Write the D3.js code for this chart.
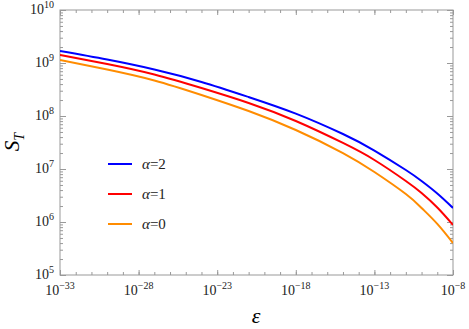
<!DOCTYPE html>
<html>
<head>
<meta charset="utf-8">
<script src="https://cdn.jsdelivr.net/npm/d3@7"></script>
<style>
  body { margin: 0; background: #fff; }
</style>
</head>
<body>
<script>
// epsilon values (x) and S_T for each alpha
var eps = [1e-33, 1e-30, 1e-27, 1e-24, 1e-21, 1e-18, 1e-15, 1e-13, 1e-11, 1e-10, 1e-9, 1e-8];
var sAlpha2 = [1.68e9, 1.16e9, 7.53e8, 4.39e8, 2.28e8, 1.11e8, 4.57e7, 2.23e7, 9.57e6, 5.94e6, 3.45e6, 1.84e6];
var sAlpha1 = [1.42e9, 9.57e8, 6.07e8, 3.37e8, 1.76e8, 8.05e7, 3.1e7, 1.48e7, 5.94e6, 3.52e6, 1.88e6, 8.8e5];
var sAlpha0 = [1.14e9, 7.53e8, 4.68e8, 2.49e8, 1.24e8, 5.44e7, 2.0e7, 8.77e6, 3.37e6, 1.84e6, 9.2e5, 4.0e5];

var seriesNames = ["\u03b1=2", "\u03b1=1", "\u03b1=0"];
var seriesColors = ["#0000ff", "#ff0000", "#ff8c00"];

var xMajor = [1e-33, 1e-28, 1e-23, 1e-18, 1e-13, 1e-8];
var xMajorExp = ["\u221233", "\u221228", "\u221223", "\u221218", "\u221213", "\u22128"];
var yMajor = [1e5, 1e6, 1e7, 1e8, 1e9, 1e10];
var yMajorExp = ["5", "6", "7", "8", "9", "10"];

var W = 469, H = 329;
var plotL = 60, plotR = 453, plotT = 10, plotB = 275;
var serif = "'Liberation Serif', 'Times New Roman', serif";

var x = d3.scaleLog().domain([1e-33, 1e-8]).range([plotL, plotR]);
var y = d3.scaleLog().domain([1e5, 1e10]).range([plotB, plotT]);

var svg = d3.select("body").append("svg")
    .attr("width", W)
    .attr("height", H)
    .style("font-family", serif);

// minor ticks
var xMinor = [];
for (var e = -33; e <= -8; e++) xMinor.push(Math.pow(10, e));
var yMinor = [];
for (var p = 5; p < 10; p++) {
  for (var m = 2; m <= 9; m++) yMinor.push(m * Math.pow(10, p));
}

var frameColor = "#999";

function styleAxis(g) {
  g.select(".domain").remove();
  g.selectAll(".tick line").attr("stroke", frameColor);
  g.selectAll(".tick text").remove();
}

// bottom / top
svg.append("g").attr("transform", "translate(0," + plotB + ")")
  .call(d3.axisBottom(x).tickValues(xMinor).tickSize(-3).tickFormat("")).call(styleAxis);
svg.append("g").attr("transform", "translate(0," + plotB + ")")
  .call(d3.axisBottom(x).tickValues(xMajor).tickSize(-5).tickFormat("")).call(styleAxis);
svg.append("g").attr("transform", "translate(0," + plotT + ")")
  .call(d3.axisTop(x).tickValues(xMinor).tickSize(-3).tickFormat("")).call(styleAxis);
svg.append("g").attr("transform", "translate(0," + plotT + ")")
  .call(d3.axisTop(x).tickValues(xMajor).tickSize(-5).tickFormat("")).call(styleAxis);

// left / right
svg.append("g").attr("transform", "translate(" + plotL + ",0)")
  .call(d3.axisLeft(y).tickValues(yMinor).tickSize(-3).tickFormat("")).call(styleAxis);
svg.append("g").attr("transform", "translate(" + plotL + ",0)")
  .call(d3.axisLeft(y).tickValues(yMajor).tickSize(-6).tickFormat("")).call(styleAxis);
svg.append("g").attr("transform", "translate(" + plotR + ",0)")
  .call(d3.axisRight(y).tickValues(yMinor).tickSize(-3).tickFormat("")).call(styleAxis);
svg.append("g").attr("transform", "translate(" + plotR + ",0)")
  .call(d3.axisRight(y).tickValues(yMajor).tickSize(-6).tickFormat("")).call(styleAxis);

// frame
svg.append("rect")
  .attr("x", plotL).attr("y", plotT)
  .attr("width", plotR - plotL).attr("height", plotB - plotT)
  .attr("fill", "none")
  .attr("stroke", frameColor)
  .attr("stroke-width", 1);

// x tick labels
xMajor.forEach(function(v, i) {
  var t = svg.append("text")
    .attr("x", x(v))
    .attr("y", plotB + 20)
    .attr("text-anchor", "middle")
    .style("font-family", serif)
    .style("font-size", "14px")
    .attr("fill", "#222");
  t.append("tspan").text("10");
  t.append("tspan").attr("dy", -6).style("font-size", "10px").text(xMajorExp[i]);
});

// y tick labels
yMajor.forEach(function(v, i) {
  var t = svg.append("text")
    .attr("x", plotL - 6)
    .attr("y", y(v) + 4)
    .attr("text-anchor", "end")
    .style("font-family", serif)
    .style("font-size", "14px")
    .attr("fill", "#222");
  t.append("tspan").text("10");
  t.append("tspan").attr("dy", -6).style("font-size", "10px").text(yMajorExp[i]);
});

// curves
var allSeries = [sAlpha2, sAlpha1, sAlpha0];
var line = d3.line()
  .x(function(d, i) { return x(eps[i]); })
  .y(function(d) { return y(d); })
  .curve(d3.curveNatural);

svg.append("clipPath").attr("id", "clip")
  .append("rect").attr("x", plotL).attr("y", plotT)
  .attr("width", plotR - plotL).attr("height", plotB - plotT);

allSeries.forEach(function(s, i) {
  svg.append("path")
    .datum(s)
    .attr("d", line)
    .attr("clip-path", "url(#clip)")
    .attr("fill", "none")
    .attr("stroke", seriesColors[i])
    .attr("stroke-width", 2);
});

// legend
var legendY = [164, 194, 224];
seriesNames.forEach(function(name, i) {
  svg.append("line")
    .attr("x1", 108).attr("x2", 132)
    .attr("y1", legendY[i]).attr("y2", legendY[i])
    .attr("stroke", seriesColors[i])
    .attr("stroke-width", 2);
  var t = svg.append("text")
    .attr("x", 142)
    .attr("y", legendY[i] + 5)
    .style("font-family", serif)
    .style("font-size", "15px")
    .attr("fill", "#222");
  t.append("tspan").style("font-style", "italic").text(name.charAt(0));
  t.append("tspan").text(name.slice(1));
});

// axis labels
svg.append("text")
  .attr("x", 256)
  .attr("y", 323)
  .attr("text-anchor", "middle")
  .style("font-family", serif)
  .style("font-size", "22px")
  .style("font-style", "italic")
  .text("\u03b5");

var yl = svg.append("text")
  .attr("transform", "translate(19,142) rotate(-90)")
  .attr("text-anchor", "middle")
  .style("font-family", serif)
  .style("font-size", "21px")
  .style("font-style", "italic");
yl.append("tspan").text("S");
yl.append("tspan").attr("dy", 5).style("font-size", "14px").text("T");
</script>
</body>
</html>
